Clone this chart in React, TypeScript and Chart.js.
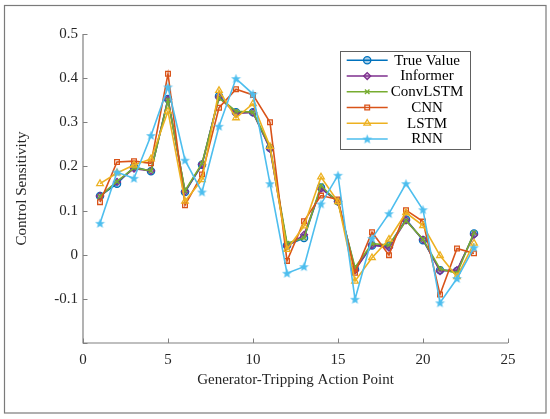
import React, { useEffect, useRef } from 'react';
import { Chart, registerables } from 'chart.js';
import { drawPoint } from 'chart.js/helpers';

Chart.register(...registerables);

const xPoints = [1, 2, 3, 4, 5, 6, 7, 8, 9, 10, 11, 12, 13, 14, 15, 16, 17, 18, 19, 20, 21, 22, 23];
const trueValue = [0.133, 0.161, 0.199, 0.189, 0.353, 0.142, 0.204, 0.359, 0.323, 0.323, 0.242, 0.021, 0.038, 0.152, 0.121, -0.033, 0.021, 0.021, 0.080, 0.033, -0.035, -0.037, 0.048];
const informer = [0.133, 0.165, 0.195, 0.190, 0.352, 0.143, 0.205, 0.357, 0.320, 0.322, 0.240, 0.020, 0.045, 0.150, 0.120, -0.035, 0.022, 0.016, 0.078, 0.034, -0.037, -0.035, 0.045];
const convLSTM = [0.132, 0.166, 0.197, 0.190, 0.350, 0.145, 0.207, 0.355, 0.325, 0.323, 0.245, 0.026, 0.038, 0.157, 0.118, -0.029, 0.025, 0.022, 0.077, 0.035, -0.032, -0.042, 0.050];
const cnn = [0.119, 0.210, 0.212, 0.207, 0.410, 0.112, 0.182, 0.333, 0.375, 0.362, 0.300, -0.014, 0.076, 0.134, 0.125, -0.041, 0.051, -0.001, 0.101, 0.075, -0.090, 0.014, 0.003];
const lstm = [0.161, 0.185, 0.203, 0.217, 0.325, 0.121, 0.170, 0.372, 0.310, 0.342, 0.245, 0.012, 0.065, 0.176, 0.120, -0.060, -0.007, 0.035, 0.095, 0.066, -0.002, -0.050, 0.026];
const rnn = [0.071, 0.187, 0.173, 0.270, 0.380, 0.214, 0.142, 0.291, 0.399, 0.364, 0.161, -0.042, -0.027, 0.115, 0.180, -0.101, 0.037, 0.093, 0.161, 0.102, -0.109, -0.054, 0.016];

const seriesNames = ['True Value', 'Informer', 'ConvLSTM', 'CNN', 'LSTM', 'RNN'];
const seriesValues = [trueValue, informer, convLSTM, cnn, lstm, rnn];
const seriesColors = ['#0072BD', '#7E2F8E', '#77AC30', '#D95319', '#EDB120', '#4DBEEE'];

const xTickValues = [0, 5, 10, 15, 20, 25];
const yTickValues = [-0.1, 0, 0.1, 0.2, 0.3, 0.4, 0.5];
const yTickLabels = ['-0.1', '0', '0.1', '0.2', '0.3', '0.4', '0.5'];

const xTitle = 'Generator-Tripping Action Point';
const yTitle = 'Control Sensitivity';

const FONT = '"Liberation Serif", "Times New Roman", serif';
const AXIS_COLOR = '#808080';
const TEXT_COLOR = '#262626';

function makeStar(color: string, size: number): HTMLCanvasElement {
  const c = document.createElement('canvas');
  c.width = size;
  c.height = size;
  const ctx = c.getContext('2d')!;
  const cx = size / 2;
  const cy = size / 2 + 0.4;
  const R = size / 2 - 0.3;
  const r = R * 0.42;
  ctx.beginPath();
  for (let i = 0; i < 10; i++) {
    const rad = i % 2 === 0 ? R : r;
    const a = -Math.PI / 2 + (i * Math.PI) / 5;
    const px = cx + rad * Math.cos(a);
    const py = cy + rad * Math.sin(a);
    if (i === 0) ctx.moveTo(px, py);
    else ctx.lineTo(px, py);
  }
  ctx.closePath();
  ctx.fillStyle = color;
  ctx.fill();
  return c;
}

export default function App() {
  const canvasRef = useRef<HTMLCanvasElement | null>(null);

  useEffect(() => {
    document.body.style.margin = '0';
    const canvas = canvasRef.current;
    if (!canvas) return;

    const star = makeStar(seriesColors[5], 11);
    const pointStyles: any[] = ['circle', 'rectRot', 'crossRot', 'rect', 'triangle', star];
    const pointRadii = [3.6, 3.5, 3.2, 3.3, 3.8, 5.5];

    const datasets = seriesNames.map((name, i) => ({
      label: name,
      data: xPoints.map((x, j) => ({ x, y: seriesValues[i][j] })),
      borderColor: seriesColors[i],
      backgroundColor: 'rgba(255,255,255,0)',
      borderWidth: 1.6,
      pointStyle: pointStyles[i],
      pointRadius: pointRadii[i],
      pointBorderWidth: 1.3,
      pointBorderColor: seriesColors[i],
      pointBackgroundColor: i === 0 || i === 1 ? seriesColors[i] + '55' : 'rgba(255,255,255,0)',
      tension: 0,
      fill: false,
      order: seriesNames.length - i,
    }));

    const overlay = {
      id: 'overlay',
      afterDraw(chart: any) {
        const ctx = chart.ctx as CanvasRenderingContext2D;
        const xs = chart.scales.x;
        const ys = chart.scales.y;
        const area = chart.chartArea;
        ctx.save();
        ctx.strokeStyle = AXIS_COLOR;
        ctx.lineWidth = 1.2;
        ctx.beginPath();
        ctx.moveTo(area.left, area.top);
        ctx.lineTo(area.left, area.bottom);
        ctx.lineTo(area.right, area.bottom);
        ctx.stroke();
        ctx.lineWidth = 1;
        ctx.beginPath();
        xTickValues.forEach((v) => {
          const px = Math.round(xs.getPixelForValue(v)) + 0.5;
          ctx.moveTo(px, area.bottom);
          ctx.lineTo(px, area.bottom - 4.5);
        });
        [-0.2, ...yTickValues].forEach((v) => {
          const py = Math.round(ys.getPixelForValue(v)) + 0.5;
          ctx.moveTo(area.left, py);
          ctx.lineTo(area.left + 4.5, py);
        });
        ctx.stroke();

        const bx = 340.5, by = 51.5, bw = 130, bh = 98;
        ctx.fillStyle = '#ffffff';
        ctx.fillRect(bx, by, bw, bh);
        ctx.strokeStyle = '#606060';
        ctx.lineWidth = 1;
        ctx.strokeRect(bx, by, bw, bh);
        ctx.font = `15px ${FONT}`;
        ctx.textAlign = 'center';
        ctx.textBaseline = 'middle';
        seriesNames.forEach((name, i) => {
          const y = 60.3 + i * 15.75;
          ctx.strokeStyle = seriesColors[i];
          ctx.lineWidth = 1.6;
          ctx.beginPath();
          ctx.moveTo(346.7, y);
          ctx.lineTo(387.7, y);
          ctx.stroke();
          const mx = 367.2;
          if (i === 5) {
            ctx.drawImage(star, mx - 5.5, y - 5.5, 11, 11);
          } else {
            ctx.fillStyle = i === 0 || i === 1 ? seriesColors[i] + '55' : 'rgba(255,255,255,0)';
            ctx.lineWidth = 1.3;
            drawPoint(ctx, { pointStyle: pointStyles[i], radius: pointRadii[i], rotation: 0, borderWidth: 1.3 } as any, mx, y);
          }
          ctx.fillStyle = '#000000';
          ctx.fillText(name, 427, y + 0.5);
        });

        ctx.strokeStyle = '#7a7a7a';
        ctx.lineWidth = 1.2;
        ctx.strokeRect(4.5, 5.5, 541.5, 407.5);
        ctx.restore();
      },
    };

    const chart = new Chart(canvas, {
      type: 'line',
      data: { datasets },
      options: {
        animation: false,
        responsive: false,
        maintainAspectRatio: false,
        devicePixelRatio: window.devicePixelRatio || 1,
        layout: { padding: { top: 34, right: 42, left: 0, bottom: 0 } },
        plugins: {
          legend: { display: false },
          tooltip: { enabled: false },
        },
        scales: {
          x: {
            type: 'linear',
            min: 0,
            max: 25,
            afterBuildTicks: (s: any) => {
              s.ticks = xTickValues.map((v) => ({ value: v }));
            },
            afterFit: (s: any) => {
              s.height = 76;
            },
            ticks: {
              color: TEXT_COLOR,
              font: { family: FONT, size: 15 },
              padding: 8,
              maxRotation: 0,
              callback: (v: any) => String(v),
            },
            grid: { display: false, drawTicks: false },
            border: { display: false },
            title: {
              display: true,
              text: xTitle,
              color: TEXT_COLOR,
              font: { family: FONT, size: 15 },
              padding: { top: 0, bottom: 30 },
            },
          },
          y: {
            type: 'linear',
            min: -0.2,
            max: 0.5,
            afterBuildTicks: (s: any) => {
              s.ticks = yTickValues.map((v) => ({ value: v }));
            },
            afterFit: (s: any) => {
              s.width = 83;
            },
            ticks: {
              color: TEXT_COLOR,
              font: { family: FONT, size: 15 },
              padding: 5,
              callback: (v: any) => {
                const idx = yTickValues.findIndex((t) => Math.abs(t - Number(v)) < 1e-9);
                return idx >= 0 ? yTickLabels[idx] : '';
              },
            },
            grid: { display: false, drawTicks: false },
            border: { display: false },
            title: {
              display: true,
              text: yTitle,
              color: TEXT_COLOR,
              font: { family: FONT, size: 15 },
              padding: { top: 13, bottom: 0 },
            },
          },
        },
      },
      plugins: [overlay],
    });

    return () => {
      chart.destroy();
    };
  }, []);

  return (
    <div style={{ width: 550, height: 419, background: '#ffffff' }}>
      <canvas ref={canvasRef} width={550} height={419} style={{ width: 550, height: 419, display: 'block' }} />
    </div>
  );
}
